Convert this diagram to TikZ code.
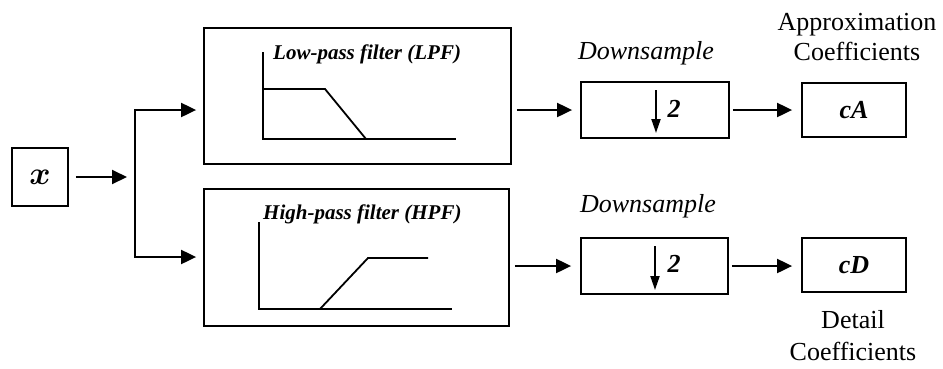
\documentclass[tikz,border=0pt]{standalone}
\usepackage{graphicx}
\usepackage{fontspec}
\setmainfont{Liberation Serif}
\usetikzlibrary{arrows.meta,calc}

\begin{document}
\begin{tikzpicture}[x=1pt,y=-1pt,
  blk/.style={draw, line width=1.8pt, inner sep=0pt, fill=white},
  conn/.style={line width=2pt, -{Triangle[length=15pt,width=14pt]}},
  fork/.style={line width=2pt, line join=miter,
    {Triangle[length=15pt,width=14pt]}-{Triangle[length=15pt,width=14pt]}},
  dnarr/.style={line width=2pt, -{Triangle[length=14pt,width=9pt]}},
  curve/.style={line width=1.8pt, line join=miter},
  lbl/.style={inner sep=0pt, font=\fontsize{26}{28}\selectfont},
  flt/.style={inner sep=0pt, font=\fontsize{21}{23}\selectfont\bfseries\itshape},
  coef/.style={inner sep=0pt, font=\fontsize{26}{28}\selectfont\bfseries\itshape}]

\useasboundingbox (0,0) rectangle (943,368);

% blocks
\node[blk, minimum width=56pt, minimum height=58pt, font=\fontsize{24.88}{26}\selectfont\boldmath] (xin) at (40,177) {\scalebox{1.3}{$x$}};
\node[blk, minimum width=307pt, minimum height=136pt] (lpf) at (357.5,96) {};
\node[blk, minimum width=305pt, minimum height=137pt] (hpf) at (356.5,257.5) {};
\node[blk, minimum width=148pt, minimum height=56pt] (dsa) at (655,110) {};
\node[blk, minimum width=147pt, minimum height=56pt] (dsd) at (654.5,266) {};
\node[blk, coef, minimum width=104pt, minimum height=54pt] (ca) at (854,110) {cA};
\node[blk, coef, minimum width=104pt, minimum height=54pt] (cd) at (854,265) {cD};

% filter responses
\node[flt, anchor=base west] (lpft) at (273,59) {Low-pass filter (LPF)};
\draw[curve] (263,52) -- (263,139) -- (456,139);
\draw[curve] (263,89) -- (325,89) -- (366,139);

\node[flt, anchor=base west] (hpft) at (263,219) {High-pass filter (HPF)};
\draw[curve] (259,222) -- (259,309) -- (452,309);
\draw[curve] (320,309) -- (368,258) -- (428,258);

% downsampling by 2
\draw[dnarr] (656,90) -- (656,133);
\node[coef, anchor=base] (twoa) at (674,117) {2};
\draw[dnarr] (655,246) -- (655,290);
\node[coef, anchor=base] (twod) at (674,272) {2};

% captions
\node[lbl, anchor=base, font=\fontsize{26}{28}\selectfont\itshape] (dsat) at (646,59) {Downsample};
\node[lbl, anchor=base, font=\fontsize{26}{28}\selectfont\itshape] (dsdt) at (648,212) {Downsample};
\node[lbl, anchor=base] (apx) at (857,30.5) {Approximation};
\node[lbl, anchor=base] (apc) at (857,60) {Coefficients};
\node[lbl, anchor=base] (dtl) at (853,328) {Detail};
\node[lbl, anchor=base] (dtc) at (853,360) {Coefficients};

% connectors
\coordinate (brk) at (135,177);
\coordinate (bt) at (135,110);
\coordinate (bb) at (135,257);
\draw[conn, shorten <=7pt, shorten >=8pt] (xin.east) -- (xin.east -| brk);
\draw[fork, shorten <=7pt, shorten >=7pt] (bt -| lpf.west) -- (bt) -- (bb) -- (bb -| hpf.west);
\draw[conn, shorten <=5pt, shorten >=8pt] (lpf.east |- dsa.west) -- (dsa.west);
\draw[conn, shorten <=3pt, shorten >=9pt] (dsa.east) -- (dsa.east -| ca.west);
\draw[conn, shorten <=5pt, shorten >=9pt] (hpf.east |- dsd.west) -- (dsd.west);
\draw[conn, shorten <=3pt, shorten >=9pt] (dsd.east) -- (dsd.east -| cd.west);
\end{tikzpicture}
\end{document}
